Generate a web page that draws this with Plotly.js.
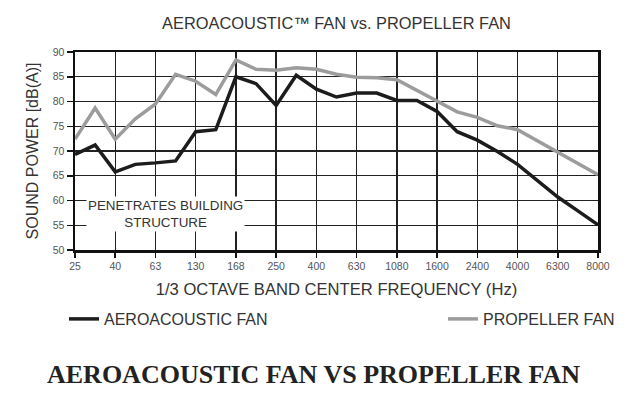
<!DOCTYPE html>
<html>
<head>
<meta charset="utf-8">
<script src="https://cdn.plot.ly/plotly-3.0.1.min.js"></script>
<style>
  html, body { margin: 0; padding: 0; background: #fff; }
  #chart { width: 640px; height: 401px; }
</style>
</head>
<body>
<div id="chart"></div>
<script>
// 1/3 octave band positions (index along the axis)
const bandIndex = [0,1,2,3,4,5,6,7,8,9,10,11,12,13,14,15,16,17,18,19,20,21,22,23,24,25,26];
// labelled bands (every other band)
const tickPositions = [0,2,4,6,8,10,12,14,16,18,20,22,24,26];
const tickLabels = ['25','40','63','130','168','250','400','630','1080','1600','2400','4000','6300','8000'];

// sound power, dB(A)
const aeroacousticFan = [69.3,71.2,65.8,67.3,67.6,68.0,73.9,74.3,85.0,83.6,79.2,85.3,82.5,80.9,81.7,81.7,80.2,80.2,78.0,73.9,72.2,69.9,67.3,64.0,60.7,57.9,55.1];
const propellerFan    = [72.4,78.7,72.4,76.5,79.5,85.5,84.1,81.4,88.4,86.5,86.3,86.8,86.5,85.5,84.9,84.8,84.4,82.3,80.2,77.9,76.8,75.1,74.3,72.0,69.7,67.5,65.2];

const yTicks = [50,55,60,65,70,75,80,85,90];

const FONT = 'Liberation Sans, Arial, Helvetica, sans-serif';

const traces = [
  {
    x: bandIndex, y: aeroacousticFan, type: 'scatter', mode: 'lines',
    name: 'AEROACOUSTIC FAN',
    line: { color: '#1c1c1c', width: 3.5 },
    legend: 'legend'
  },
  {
    x: bandIndex, y: propellerFan, type: 'scatter', mode: 'lines',
    name: 'PROPELLER FAN',
    line: { color: '#9c9c9c', width: 3.5 },
    legend: 'legend2'
  }
];

const layout = {
  width: 640, height: 401,
  margin: { l: 75, r: 42, t: 52, b: 151, pad: 0 },
  paper_bgcolor: '#fff', plot_bgcolor: '#fff',
  font: { family: FONT, color: '#333' },
  title: {
    text: 'AEROACOUSTIC™ FAN vs. PROPELLER FAN',
    font: { size: 16.4, color: '#333', family: FONT },
    x: 0.5, xref: 'paper', xanchor: 'center',
    y: 1 - 23/401, yref: 'container', yanchor: 'middle'
  },
  xaxis: {
    range: [0, 26],
    tickmode: 'array', tickvals: tickPositions, ticktext: tickLabels,
    ticks: 'outside', ticklen: 5, tickwidth: 1.5, tickcolor: '#111',
    tickfont: { size: 10.5, color: '#555', family: FONT },
    showgrid: true, gridcolor: '#222', gridwidth: 1.3,
    showline: true, linecolor: '#111', linewidth: 2.5, mirror: true,
    zeroline: false, fixedrange: true,
    title: { text: '1/3 OCTAVE BAND CENTER FREQUENCY (Hz)', font: { size: 16.6, color: '#333', family: FONT }, standoff: 13 }
  },
  yaxis: {
    range: [50, 90],
    tickmode: 'array', tickvals: yTicks,
    ticks: 'outside', ticklen: 6, tickwidth: 1.5, tickcolor: '#111',
    tickfont: { size: 10.5, color: '#555', family: FONT },
    showgrid: true, gridcolor: '#222', gridwidth: 1.3,
    showline: true, linecolor: '#111', linewidth: 2.5, mirror: true,
    zeroline: false, fixedrange: true,
    title: { text: 'SOUND POWER [dB(A)]', font: { size: 16, color: '#333', family: FONT }, standoff: 10 }
  },
  showlegend: true,
  legend: {
    orientation: 'h', xref: 'container', yref: 'container',
    x: 64/640, xanchor: 'left', y: 1 - 319/401, yanchor: 'middle',
    font: { size: 16, color: '#333', family: FONT },
    bgcolor: 'rgba(0,0,0,0)', borderwidth: 0
  },
  legend2: {
    orientation: 'h', xref: 'container', yref: 'container',
    x: 443/640, xanchor: 'left', y: 1 - 319/401, yanchor: 'middle',
    font: { size: 16, color: '#333', family: FONT },
    bgcolor: 'rgba(0,0,0,0)', borderwidth: 0
  },
  annotations: [
    {
      x: 4.5, y: 57.3, xref: 'x', yref: 'y',
      text: 'PENETRATES BUILDING<br>STRUCTURE',
      showarrow: false,
      font: { size: 13.4, color: '#333', family: FONT },
      bgcolor: '#fff', borderpad: 1, align: 'center'
    },
    {
      x: (313.8 - 75) / 523, y: -(374.5 - 250) / 198, xref: 'paper', yref: 'paper',
      xanchor: 'center', yanchor: 'middle',
      text: '<b>AEROACOUSTIC FAN VS PROPELLER FAN</b>',
      showarrow: false,
      font: { size: 26, color: '#222', family: 'Liberation Serif, Times New Roman, serif' }
    }
  ]
};

Plotly.newPlot('chart', traces, layout, { displayModeBar: false, staticPlot: true });
</script>
</body>
</html>
